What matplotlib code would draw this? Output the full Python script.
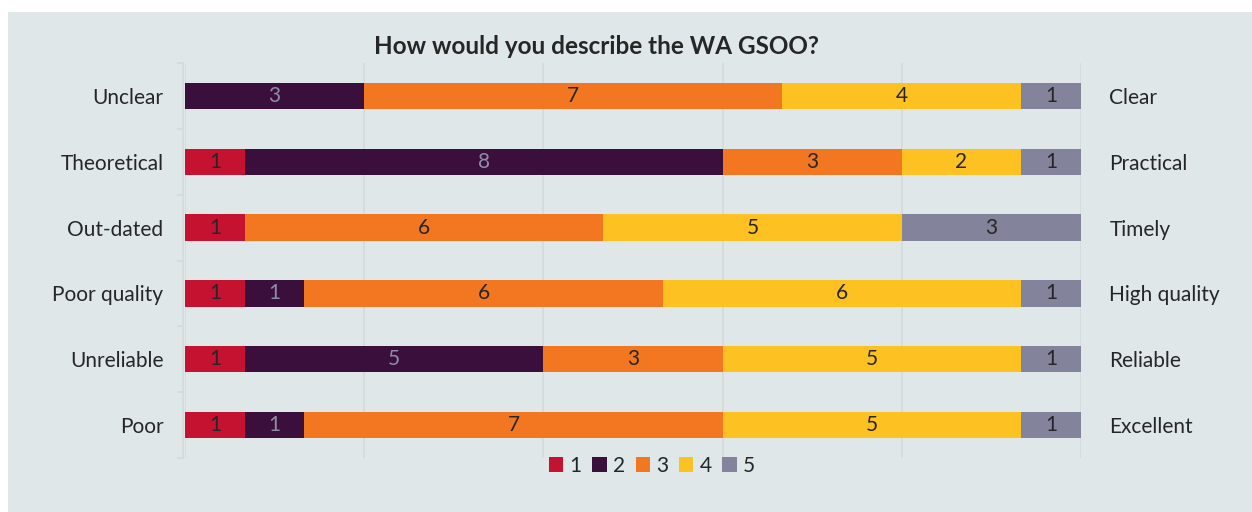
import matplotlib
matplotlib.use('Agg')
import matplotlib.pyplot as plt
from matplotlib.patches import Rectangle
import numpy as np

# survey answers, top row first
left_labels = ['Unclear', 'Theoretical', 'Out-dated', 'Poor quality', 'Unreliable', 'Poor']
right_labels = ['Clear', 'Practical', 'Timely', 'High quality', 'Reliable', 'Excellent']
series_names = ['1', '2', '3', '4', '5']
score_1 = [0, 1, 1, 1, 1, 1]
score_2 = [3, 8, 0, 1, 5, 1]
score_3 = [7, 3, 6, 6, 3, 7]
score_4 = [4, 2, 5, 6, 5, 5]
score_5 = [1, 1, 3, 1, 1, 1]

colors = ['#c41230', '#3a0f3b', '#f37721', '#fec122', '#83849b']
text_colors = ['#262626', '#8e8ca6', '#262626', '#262626', '#262626']
bg = '#e0e7e9'
grid_c = '#d5d9dc'
fs = 15

plt.rcParams['font.family'] = ['Lato', 'DejaVu Sans']

fig = plt.figure(figsize=(12.52, 5.12), dpi=100)
fig.patch.set_facecolor('white')
fig.patches.append(Rectangle((8 / 1252, 0), 1, 500 / 512, transform=fig.transFigure,
                             facecolor=bg, edgecolor='none', zorder=-10))

ax = fig.add_axes([185 / 1252, 54 / 512, 896 / 1252, 395 / 512])
ax.set_facecolor('none')

y = np.arange(len(left_labels))
left = np.zeros(len(left_labels))
all_series = [score_1, score_2, score_3, score_4, score_5]
for i, vals in enumerate(all_series):
    vals = np.array(vals)
    bars = ax.barh(y, vals, left=left, height=0.4, color=colors[i], label=series_names[i],
                   edgecolor='none', zorder=3)
    for b, v in zip(bars, vals):
        if v > 0:
            ax.text(b.get_x() + b.get_width() / 2, b.get_y() + b.get_height() / 2, str(v),
                    ha='center', va='center', fontsize=fs, color=text_colors[i], zorder=4)
    left += vals

ax.set_xlim(0, 15)
ax.set_ylim(len(left_labels) - 0.5, -0.5)
ax.set_xticks([0, 3, 6, 9, 12, 15])
ax.xaxis.grid(True, color=grid_c, linewidth=1.2, zorder=0)
ax.tick_params(axis='x', length=0, labelbottom=False)

ax.set_yticks(np.arange(-0.5, len(left_labels)), minor=True)
ax.set_yticks(y)
ax.set_yticklabels(left_labels)
ax.tick_params(axis='y', which='major', length=0, pad=14, labelsize=fs, labelcolor='#262626')
ax.tick_params(axis='y', which='minor', length=4.5, color=grid_c, width=1.2)
for s in ['top', 'right', 'bottom']:
    ax.spines[s].set_visible(False)
ax.spines['left'].set_color(grid_c)
ax.spines['left'].set_linewidth(1.2)
ax.spines['left'].set_position(('outward', 1.5))

ax2 = ax.twinx()
ax2.set_ylim(ax.get_ylim())
ax2.set_yticks(y)
ax2.set_yticklabels(right_labels)
ax2.tick_params(axis='y', length=0, pad=20.5, labelsize=fs, labelcolor='#262626')
for s in ax2.spines.values():
    s.set_visible(False)

fig.text(597 / 1252, 1 - 46 / 512, 'How would you describe the WA GSOO?', ha='center', va='center',
         fontsize=17.5, fontweight='bold', color='#262626')

fig.legend(loc='center', bbox_to_anchor=(652 / 1252, 1 - 466 / 512), ncol=5, frameon=False,
           fontsize=fs, handlelength=0.7, handleheight=0.7, handletextpad=0.3,
           columnspacing=0.5, labelcolor='#262626')

fig.savefig('out.png', dpi=100, facecolor=fig.get_facecolor())
